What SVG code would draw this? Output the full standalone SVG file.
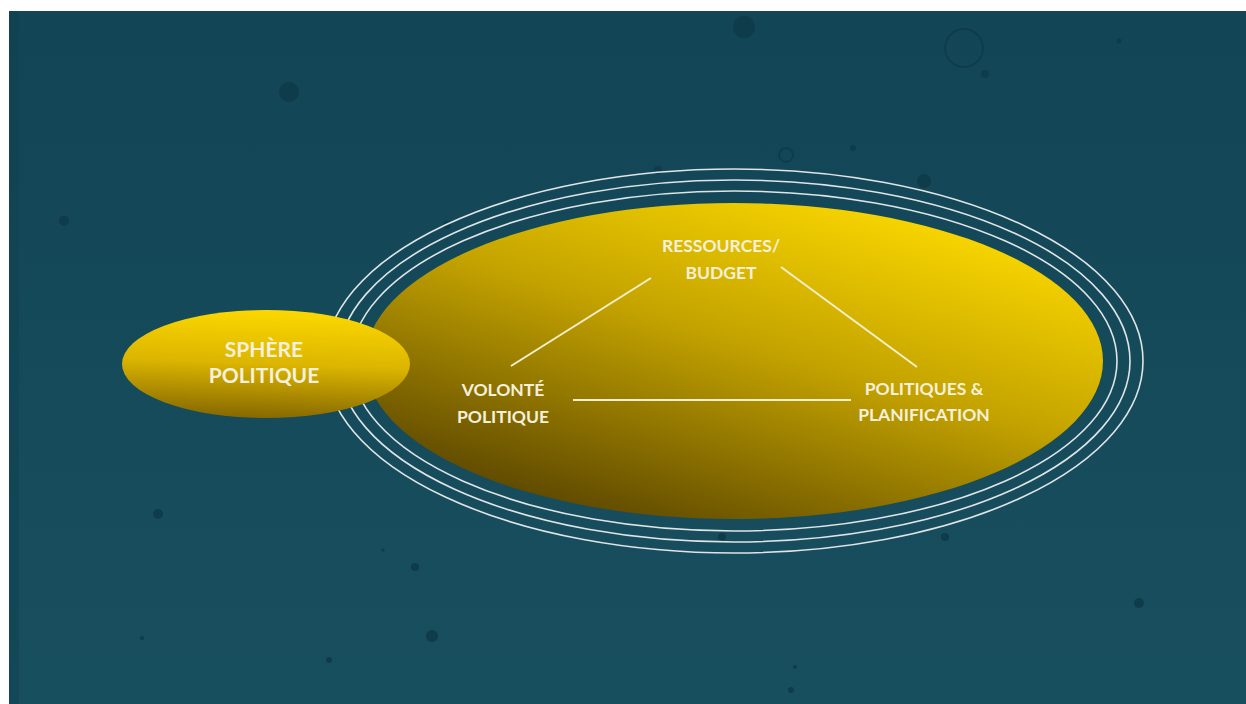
<svg xmlns="http://www.w3.org/2000/svg" width="1246" height="704" viewBox="0 0 1246 704">
  <defs>
    <linearGradient id="bg" x1="0" y1="0" x2="0" y2="1">
      <stop offset="0" stop-color="#124555"/>
      <stop offset="1" stop-color="#184f5e"/>
    </linearGradient>
    <linearGradient id="bigGrad" x1="0.82" y1="0.05" x2="0.2" y2="0.95">
      <stop offset="0" stop-color="#fcd900"/>
      <stop offset="0.45" stop-color="#c4a300"/>
      <stop offset="1" stop-color="#5a4500"/>
    </linearGradient>
    <linearGradient id="smallGrad" x1="0.55" y1="0" x2="0.45" y2="1">
      <stop offset="0" stop-color="#fcd800"/>
      <stop offset="0.5" stop-color="#dbb500"/>
      <stop offset="1" stop-color="#866800"/>
    </linearGradient>
    <style>
      .ring { fill: none; stroke: #dfe4e6; stroke-width: 1.6; }
      .dot { fill: #0f3c4b; }
      .hollow { fill: none; stroke: #0f3c4b; stroke-width: 1.8; }
      .lbl { font-family: Lato, "Open Sans", "Liberation Sans", sans-serif; font-weight: bold; fill: #f6f0dc; text-anchor: middle; }
      .edge { stroke: #f6efcf; stroke-width: 2; fill: none; }
    </style>
  </defs>

  <rect x="0" y="0" width="1246" height="704" fill="#ffffff"/>
  <rect x="9" y="11" width="1237" height="693" fill="url(#bg)"/>
  <rect x="9" y="11" width="10" height="693" fill="#0f4050" opacity="0.5"/>

  <g id="decor">
    <circle class="dot" cx="289" cy="92" r="10"/>
    <circle class="dot" cx="744" cy="27" r="11"/>
    <circle class="hollow" cx="964" cy="48" r="19"/>
    <circle class="dot" cx="985" cy="74" r="4"/>
    <circle class="dot" cx="1119" cy="41" r="2.5"/>
    <circle class="hollow" cx="786" cy="155" r="7"/>
    <circle class="dot" cx="853" cy="148" r="3"/>
    <circle class="dot" cx="924" cy="181" r="7"/>
    <circle class="dot" cx="658" cy="170" r="4"/>
    <circle class="dot" cx="447" cy="225" r="4"/>
    <circle class="dot" cx="64" cy="221" r="5"/>
    <circle class="dot" cx="158" cy="514" r="5"/>
    <circle class="dot" cx="415" cy="567" r="4"/>
    <circle class="dot" cx="432" cy="636" r="6"/>
    <circle class="dot" cx="142" cy="638" r="2"/>
    <circle class="dot" cx="329" cy="660" r="3"/>
    <circle class="dot" cx="795" cy="667" r="2"/>
    <circle class="dot" cx="791" cy="690" r="3"/>
    <circle class="dot" cx="1139" cy="603" r="5"/>
    <circle class="dot" cx="945" cy="537" r="4"/>
    <circle class="dot" cx="722" cy="537" r="4"/>
    <circle class="dot" cx="383" cy="550" r="1.5"/>
  </g>

  <g id="rings">
    <ellipse class="ring" cx="734" cy="361" rx="409" ry="192"/>
    <ellipse class="ring" cx="734" cy="361" rx="396" ry="181"/>
    <ellipse class="ring" cx="734" cy="361" rx="383" ry="170"/>
  </g>

  <g id="node-main">
    <ellipse cx="734" cy="361" rx="369" ry="158" fill="url(#bigGrad)"/>
  </g>

  <g id="connectors">
    <line class="edge" x1="511" y1="366" x2="651" y2="278"/>
    <line class="edge" x1="781" y1="267" x2="917" y2="367"/>
    <line class="edge" x1="573" y1="400" x2="851" y2="400"/>
  </g>

  <g id="node-ressources">
    <text class="lbl" font-size="17.5" x="721" y="252">RESSOURCES/</text>
    <text class="lbl" font-size="17.5" x="721" y="279">BUDGET</text>
  </g>

  <g id="node-volonte">
    <text class="lbl" font-size="17.5" x="503" y="396">VOLONTÉ</text>
    <text class="lbl" font-size="17.5" x="503" y="423">POLITIQUE</text>
  </g>

  <g id="node-politiques">
    <text class="lbl" font-size="17.5" x="924" y="395">POLITIQUES &amp;</text>
    <text class="lbl" font-size="17.5" x="924" y="421">PLANIFICATION</text>
  </g>

  <g id="node-sphere">
    <ellipse cx="266" cy="364" rx="144" ry="54" fill="url(#smallGrad)"/>
    <text class="lbl" font-size="21" x="264" y="357">SPHÈRE</text>
    <text class="lbl" font-size="21" x="264" y="383">POLITIQUE</text>
  </g>
</svg>
